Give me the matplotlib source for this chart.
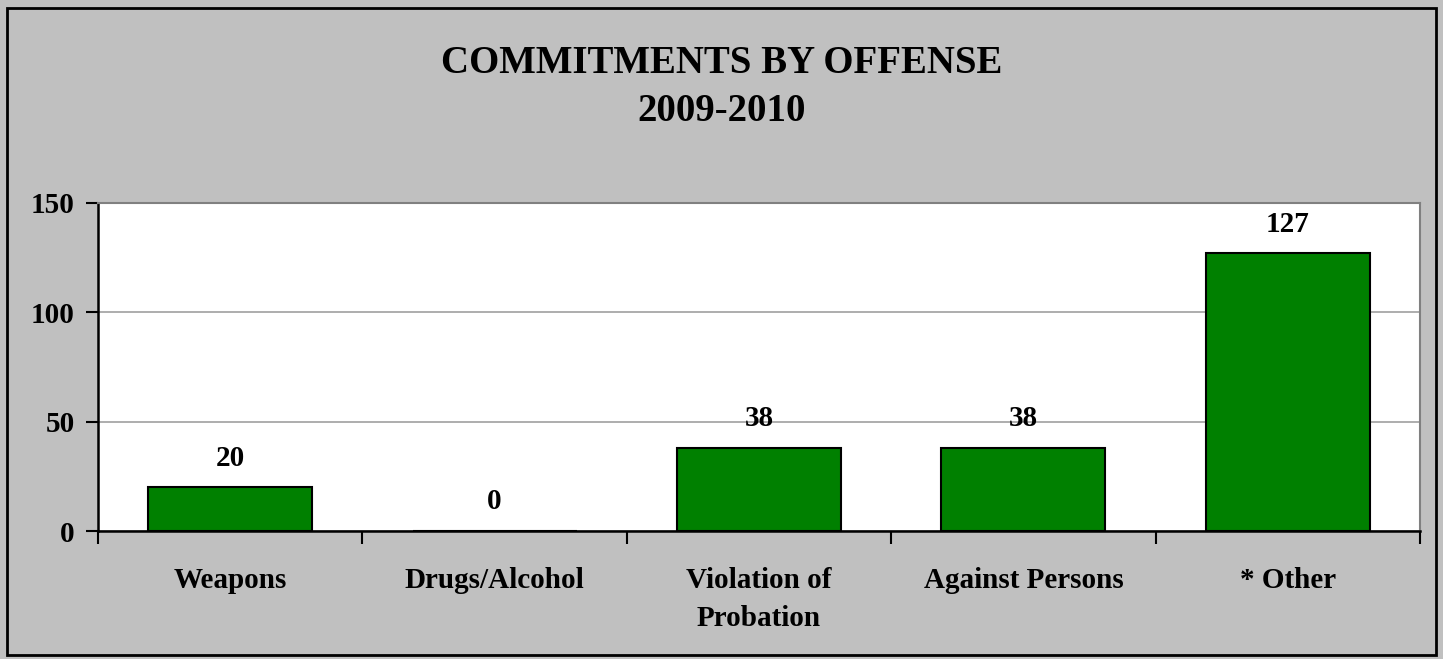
import matplotlib.pyplot as plt
from matplotlib.patches import Rectangle

categories = ['Weapons', 'Drugs/Alcohol', 'Violation of\nProbation', 'Against Persons', '* Other']
values = [20, 0, 38, 38, 127]
yticks = [0, 50, 100, 150]

plt.rcParams['font.family'] = ['Liberation Serif', 'DejaVu Serif']
plt.rcParams['font.weight'] = 'bold'

fig = plt.figure(figsize=(14.43, 6.59), dpi=100)
fig.patch.set_facecolor('#C0C0C0')
# outer black frame
fig.patches.append(Rectangle((0.005, 0.006), 0.99, 0.982, transform=fig.transFigure,
                             fill=False, edgecolor='black', linewidth=2))

ax = fig.add_axes([0.068, 0.194, 0.916, 0.498])
ax.set_facecolor('white')

x = range(len(categories))
ax.bar(x, values, width=0.62, color='#008000', edgecolor='black', linewidth=1.5, zorder=3)
for xi, v in zip(x, values):
    ax.annotate(str(v), (xi, v), xytext=(0, 21), textcoords='offset points',
                ha='center', va='center', fontsize=21, fontweight='bold')

ax.set_xlim(-0.5, len(categories) - 0.5)
ax.set_ylim(0, 150)
ax.set_yticks(yticks)
ax.yaxis.grid(True, color='#a0a0a0', linewidth=1.2, zorder=0)

ax.set_xticks(list(x))
ax.set_xticklabels(categories, fontsize=21, fontweight='bold', linespacing=1.5)
ax.tick_params(axis='x', length=0, pad=26)
ax.set_xticks([i + 0.5 for i in range(-1, len(categories))], minor=True)
ax.tick_params(axis='x', which='minor', length=9, width=1.5, direction='out')
ax.tick_params(axis='y', length=9, width=1.5, direction='out', labelsize=21, pad=8)
for lbl in ax.get_yticklabels():
    lbl.set_fontweight('bold')

ax.spines['left'].set_linewidth(1.8)
ax.spines['bottom'].set_linewidth(1.8)
ax.spines['top'].set_color('#808080')
ax.spines['right'].set_color('#808080')
ax.spines['top'].set_linewidth(1.5)
ax.spines['right'].set_linewidth(1.5)

fig.text(0.5, 0.904, 'COMMITMENTS BY OFFENSE', ha='center', va='center', fontsize=28, fontweight='bold')
fig.text(0.5, 0.831, '2009-2010', ha='center', va='center', fontsize=28, fontweight='bold')

fig.savefig('out.png', dpi=100, facecolor=fig.get_facecolor())
